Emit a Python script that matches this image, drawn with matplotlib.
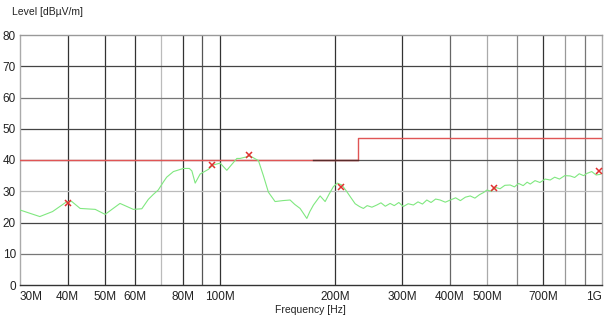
import matplotlib
matplotlib.use('Agg')
import matplotlib.pyplot as plt
import numpy as np

plt.rcParams['font.family'] = ['Liberation Sans', 'DejaVu Sans']

# ── DATA ─────────────────────────────────────────────────────────────────────
# measured trace, MHz / dBuV/m (read off the picture)
freq_mhz = [30, 33.8, 36.5, 39.8, 41.0, 43.1, 47.2, 50.1, 54.8, 59.4, 62.5,
            65.0, 67.0, 69.0, 71.2, 72.6, 75.6, 80.3, 83.2, 84.5, 86.2, 88.8,
            93.3, 96.0, 100.2, 104.3, 110.8, 113, 120, 126.2, 130, 134, 139.5,
            146, 152.7, 157, 162.2, 168.9, 172, 175.8, 183, 188.6, 193, 198.3,
            203, 208.6, 214, 219.3, 226, 232, 237.5, 243, 250, 257.5, 264, 271,
            279, 286, 294, 302, 311, 321, 330, 339, 348, 357, 367, 377, 389,
            401, 414, 426, 439, 452, 465, 478, 490, 500, 513, 527, 541, 557,
            575, 590, 605, 622, 637, 649, 668, 688, 710, 732, 752, 774, 799,
            826, 848, 872, 895, 913, 940, 965, 990]
level = [24.0, 21.9, 23.5, 26.7, 26.7, 24.5, 24.2, 22.6, 26.1, 24.2, 24.4,
         27.4, 29.0, 30.4, 33.0, 34.5, 36.3, 37.3, 37.3, 36.5, 32.6, 35.5,
         37.0, 38.4, 39.0, 36.7, 40.5, 40.5, 41.3, 39.8, 35.0, 29.7, 26.7,
         27.0, 27.2, 25.8, 24.5, 21.3, 23.5, 25.6, 28.5, 26.7, 29.0, 31.5,
         32.6, 32.0, 30.2, 28.3, 26.0, 25.1, 24.5, 25.4, 24.9, 25.6, 26.3, 25.2,
         26.1, 25.4, 26.4, 25.1, 26.0, 25.6, 26.6, 25.9, 27.2, 26.4, 27.5,
         27.2, 26.5, 27.2, 27.9, 27.0, 28.1, 28.5, 27.8, 28.9, 29.6, 30.4,
         30.0, 31.2, 30.8, 31.9, 32.0, 31.4, 32.5, 31.8, 32.9, 32.3, 33.4,
         32.8, 33.9, 33.6, 34.5, 33.9, 35.0, 34.9, 34.4, 35.6, 35.0, 35.7,
         36.3, 35.2, 35.4]

# peak markers
peak_mhz = [40.0, 95.6, 119.4, 206.9, 522, 983]
peak_lvl = [26.2, 38.4, 41.6, 31.5, 30.9, 36.5]

# limit line
limit_mhz = [30, 230, 230, 1000]
limit_lvl = [40, 40, 47, 47]
dark_seg_mhz = [175, 230]
dark_seg_lvl = [40, 40]

xtick_mhz = [30, 40, 50, 60, 80, 100, 200, 300, 400, 500, 700, 1000]
xtick_lbl = ['30M', '40M', '50M', '60M', '80M', '100M', '200M', '300M',
             '400M', '500M', '700M', '1G']
vgrid_mhz = [40, 50, 60, 70, 80, 90, 100, 200, 300, 400, 500, 600, 700, 800, 900]
vgrid_col = ['#333333', '#333333', '#333333', '#bbbbbb', '#333333', '#555555',
             '#333333', '#333333', '#333333', '#666666', '#aaaaaa', '#888888',
             '#333333', '#999999', '#777777']
hgrid_lvl = [10, 20, 30, 40, 50, 60, 70]
hgrid_col = ['#777777', '#444444', '#bbbbbb', '#555555', '#444444', '#777777',
             '#444444']

# ── FIGURE ───────────────────────────────────────────────────────────────────
fig = plt.figure(figsize=(6.08, 3.22), dpi=100)
ax = fig.add_axes([20/608, 1-285/322, 582/608, 250/322])
ax.set_xscale('log')
ax.set_xlim(30e6, 1e9)
ax.set_ylim(0, 80)

for f, c in zip(vgrid_mhz, vgrid_col):
    ax.axvline(f*1e6, color=c, lw=0.9, zorder=1)
for l, c in zip(hgrid_lvl, hgrid_col):
    ax.axhline(l, color=c, lw=0.9, zorder=1)

ax.plot(np.array(limit_mhz)*1e6, limit_lvl, color='#e05555', lw=1.0, zorder=3)
ax.plot(np.array(dark_seg_mhz)*1e6, dark_seg_lvl, color='#5a2a2a', lw=1.0, zorder=4)
ax.plot(np.array(freq_mhz)*1e6, level, color='#80e880', lw=0.8, zorder=3)
ax.plot(np.array(peak_mhz)*1e6, peak_lvl, ls='none', marker='x', ms=5,
        mew=1.1, color='#e03030', zorder=5)

ax.set_xticks(np.array(xtick_mhz)*1e6)
ax.set_xticklabels(xtick_lbl)
ax.xaxis.set_minor_locator(matplotlib.ticker.NullLocator())
ax.set_yticks(range(0, 81, 10))
ax.tick_params(length=0, labelsize=8.5, pad=3, colors='#222222')
ax.tick_params(axis='x', pad=4)
xl = ax.get_xticklabels()
xl[0].set_ha('left')
xl[-1].set_ha('right')

for side, c in [('left', '#aaaaaa'), ('right', '#aaaaaa'),
                ('top', '#999999'), ('bottom', '#333333')]:
    ax.spines[side].set_color(c)
    ax.spines[side].set_linewidth(1.0)

fig.text(12/608, 1-12/322, 'Level [dBµV/m]', fontsize=7.5, va='center',
         ha='left', color='#222222')
fig.text(310/608, 1-310/322, 'Frequency [Hz]', fontsize=7.5, va='center',
         ha='center', color='#222222')

fig.savefig('out.png', dpi=100)
